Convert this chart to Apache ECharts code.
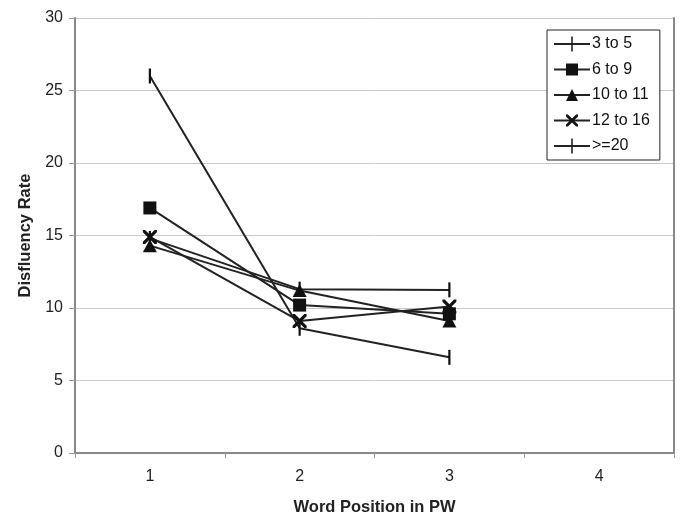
<!DOCTYPE html>
<html>
<head>
<meta charset="utf-8">
<script src="https://cdn.jsdelivr.net/npm/echarts@6/dist/echarts.min.js"></script>
<style>html,body{margin:0;padding:0;background:#fff}#c{width:694px;height:526px}</style>
</head>
<body>
<div id="c"></div>
<script>
const categories = ['1', '2', '3', '4'];
const seriesNames = ['3 to 5', '6 to 9', '10 to 11', '12 to 16', '>=20'];
const age3to5 = [26.0, 8.6, 6.6, null];
const age6to9 = [16.9, 10.2, 9.6, null];
const age10to11 = [14.3, 11.2, 9.1, null];
const age12to16 = [14.9, 9.1, 10.1, null];
const age20plus = [14.8, 11.3, 11.25, null];
const yTicks = { min: 0, max: 30, interval: 5 };

const xPath = 'path://M0,0 L1.6,0 L5,3.4 L8.4,0 L10,0 L10,1.6 L6.6,5 L10,8.4 L10,10 L8.4,10 L5,6.6 L1.6,10 L0,10 L0,8.4 L3.4,5 L0,1.6 Z';
const tickIcon = 'path://M0,6.5 L17.2,6.5 L17.2,0 L18.8,0 L18.8,6.5 L36,6.5 L36,8.5 L18.8,8.5 L18.8,15 L17.2,15 L17.2,8.5 L0,8.5 Z';
const markers = [
  { symbol: 'rect', size: [2.2, 15], icon: tickIcon },
  { symbol: 'rect', size: [13, 13], icon: null },
  { symbol: 'triangle', size: [14, 13], icon: null },
  { symbol: xPath, size: [14, 14], icon: null },
  { symbol: 'rect', size: [2.2, 15], icon: tickIcon }
];
const values = [age3to5, age6to9, age10to11, age12to16, age20plus];

const chart = echarts.init(document.getElementById('c'));
chart.setOption({
  animation: false,
  backgroundColor: '#fff',
  textStyle: { fontFamily: 'Liberation Sans, Arial, sans-serif' },
  grid: { left: 75, right: 20, top: 18, bottom: 73, containLabel: false },
  legend: {
    orient: 'vertical',
    left: 547, top: 30,
    padding: [6, 10, 6, 6],
    itemGap: 9.5,
    itemWidth: 36, itemHeight: 15,
    symbolKeepAspect: true,
    borderColor: '#222', borderWidth: 1,
    backgroundColor: '#fff',
    textStyle: { fontSize: 16, color: '#111', padding: [0, 0, 0, -3] },
    data: seriesNames.map((n, i) => markers[i].icon ? { name: n, icon: markers[i].icon, itemStyle: { color: '#222' } } : { name: n })
  },
  xAxis: {
    type: 'category',
    data: categories,
    boundaryGap: true,
    name: 'Word Position in PW',
    nameLocation: 'middle',
    nameGap: 46,
    nameTextStyle: { fontSize: 16.5, fontWeight: 'bold', color: '#222' },
    axisLine: { lineStyle: { color: '#888', width: 2 } },
    axisTick: { show: true, length: 5, lineStyle: { color: '#999', width: 1 } },
    axisLabel: { fontSize: 16, color: '#222', margin: 16 },
    splitLine: { show: false }
  },
  yAxis: [{
    type: 'value',
    min: yTicks.min, max: yTicks.max, interval: yTicks.interval,
    name: 'Disfluency Rate',
    nameLocation: 'middle',
    nameGap: 40,
    nameTextStyle: { fontSize: 16.5, fontWeight: 'bold', color: '#222' },
    axisLine: { show: true, lineStyle: { color: '#888', width: 2 } },
    axisTick: { show: true, length: 6, lineStyle: { color: '#999', width: 1 } },
    axisLabel: { fontSize: 16, color: '#222', margin: 12 },
    splitLine: { show: true, lineStyle: { color: '#c8c8c8', width: 1 } }
  }, {
    type: 'value',
    position: 'right',
    min: yTicks.min, max: yTicks.max, interval: yTicks.interval,
    axisLine: { show: true, lineStyle: { color: '#888', width: 2 } },
    axisTick: { show: false },
    axisLabel: { show: false },
    splitLine: { show: false }
  }],
  series: seriesNames.map((name, i) => ({
    name: name,
    type: 'line',
    yAxisIndex: 0,
    data: values[i],
    symbol: markers[i].symbol,
    symbolSize: markers[i].size,
    showAllSymbol: true,
    lineStyle: { color: '#222', width: 2 },
    itemStyle: { color: '#111', borderWidth: 0 },
    emphasis: { disabled: true }
  }))
});
</script>
</body>
</html>
